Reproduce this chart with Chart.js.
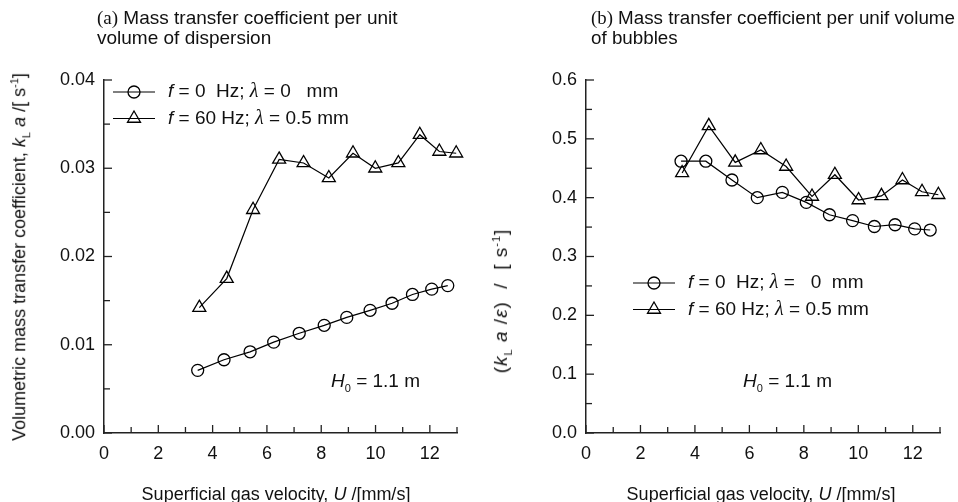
<!DOCTYPE html>
<html>
<head>
<meta charset="utf-8">
<script src="https://cdn.jsdelivr.net/npm/chart.js@4"></script>
<style>
  body { margin: 0; background: #fff; }
  #wrap { position: relative; width: 958px; height: 502px; font-family: "Liberation Sans", Arial, sans-serif; color: #111; }
  canvas { position: absolute; top: 0; }
  .title { position: absolute; top: 8px; font-size: 19px; line-height: 20px; white-space: nowrap; }
  .title .tag { font-family: "Liberation Serif", "Times New Roman", serif; }
  .xt, .yt, .note { position: absolute; font-size: 18px; white-space: pre; transform: translate(-50%, -50%); }
  .yt { transform: translate(-50%, -50%) rotate(-90deg); }
  .note { font-size: 19px; transform: translate(0, -50%); }
  sub, sup { font-size: 11px; }
</style>
</head>
<body>
<div id="wrap">
  <canvas id="chartA" width="479" height="502" style="left:0"></canvas>
  <canvas id="chartB" width="479" height="502" style="left:479px"></canvas>

  <div class="title" style="left:97px"><span class="tag">(a)</span> Mass transfer coefficient per unit<br>volume of dispersion</div>
  <div class="title" style="left:591px; font-size:18.8px"><span class="tag">(b)</span> Mass transfer coefficient per unif volume<br>of bubbles</div>

  <div class="xt" style="left:276px; top:494px">Superficial gas velocity, <i>U</i> /[mm/s]</div>
  <div class="xt" style="left:761px; top:494px">Superficial gas velocity, <i>U</i> /[mm/s]</div>

  <div class="yt" style="left:20px; top:257px">Volumetric mass transfer coefficient, <i>k</i><sub>L</sub> <i>a</i> /[ s<sup>-1</sup>]</div>
  <div class="yt" style="left:502px; top:301px; font-size:19px; letter-spacing:1px">(<i>k</i><sub>L</sub> <i>a</i> /<i>ε</i>)  /  [ s<sup>-1</sup>]</div>

  <div class="note" style="left:331px; top:382px"><i>H</i><sub>0</sub> = 1.1 m</div>
  <div class="note" style="left:743px; top:382px"><i>H</i><sub>0</sub> = 1.1 m</div>
</div>

<script>
// (a) kLa vs superficial gas velocity
const uCircleA = [3.45, 4.42, 5.38, 6.25, 7.19, 8.11, 8.94, 9.80, 10.61, 11.36, 12.07, 12.66];
const kCircleA = [0.0071, 0.0083, 0.0092, 0.0103, 0.0113, 0.0122, 0.0131, 0.0139, 0.0147, 0.0157, 0.0163, 0.0167];
const uTriA = [3.51, 4.52, 5.49, 6.45, 7.35, 8.28, 9.17, 9.99, 10.84, 11.63, 12.35, 12.97];
const kTriA = [0.0142, 0.0175, 0.0253, 0.0310, 0.0306, 0.0289, 0.0317, 0.0300, 0.0306, 0.0338, 0.0319, 0.0317];

// (b) kLa/eps vs superficial gas velocity
const uCircleB = [3.49, 4.40, 5.36, 6.29, 7.21, 8.09, 8.94, 9.79, 10.59, 11.35, 12.07, 12.64];
const kCircleB = [0.462, 0.462, 0.430, 0.400, 0.409, 0.392, 0.371, 0.361, 0.351, 0.354, 0.347, 0.345];
const uTriB = [3.53, 4.51, 5.48, 6.42, 7.35, 8.30, 9.14, 10.01, 10.85, 11.62, 12.34, 12.94];
const kTriB = [0.442, 0.522, 0.460, 0.481, 0.453, 0.402, 0.439, 0.396, 0.403, 0.430, 0.410, 0.405];

const xTickLabels = [0, 2, 4, 6, 8, 10, 12];
const yTickLabelsA = ['0.00', '0.01', '0.02', '0.03', '0.04'];
const yTickLabelsB = ['0.0', '0.1', '0.2', '0.3', '0.4', '0.5', '0.6'];

const SANS = '"Liberation Sans", Arial, sans-serif';
const SERIF = '"Liberation Serif", "Times New Roman", serif';

const pts = (xs, ys) => xs.map((x, i) => ({x, y: ys[i]}));

const circleStyle = {pointStyle: 'circle', pointRadius: 6, borderWidth: 1.2, pointBorderWidth: 1.3};
const triStyle = {pointStyle: 'triangle', pointRadius: 7.5, borderWidth: 1.2, pointBorderWidth: 1.3};

// ticks pointing into the plot, longer at labelled values
const inwardTicks = {
  id: 'inwardTicks',
  afterDraw(chart) {
    const {ctx, chartArea: a} = chart;
    const {x, y} = chart.scales;
    const line = (x1, y1, x2, y2) => { ctx.beginPath(); ctx.moveTo(x1, y1); ctx.lineTo(x2, y2); ctx.stroke(); };
    ctx.save();
    ctx.strokeStyle = '#222';
    ctx.lineWidth = 1.3;
    x.ticks.forEach(t => {
      const px = x.getPixelForValue(t.value);
      line(px, a.bottom, px, a.bottom - (t.label !== '' ? 8 : 6));
    });
    y.ticks.forEach(t => {
      const py = y.getPixelForValue(t.value);
      line(a.left, py, a.left + (t.label !== '' ? 8 : 6), py);
    });
    ctx.restore();
  }
};

// legend with mixed italic / serif text runs
const richLegend = {
  id: 'richLegend',
  afterDraw(chart, args, opts) {
    const ctx = chart.ctx;
    ctx.save();
    opts.rows.forEach((row, i) => {
      const ds = chart.data.datasets[i];
      const y = opts.y + i * opts.gap;
      ctx.strokeStyle = '#000';
      ctx.lineWidth = 1.2;
      ctx.beginPath(); ctx.moveTo(opts.x, y); ctx.lineTo(opts.x + 42, y); ctx.stroke();
      ctx.lineWidth = ds.pointBorderWidth;
      ctx.fillStyle = 'rgba(0,0,0,0)';
      Chart.helpers.drawPoint(ctx, {pointStyle: ds.pointStyle, radius: ds.pointRadius, borderWidth: ds.pointBorderWidth, rotation: 0}, opts.x + 21, y);
      let tx = opts.x + 55;
      ctx.fillStyle = '#111';
      ctx.textBaseline = 'middle';
      row.forEach(([text, font]) => {
        ctx.font = font;
        ctx.fillText(text, tx, y);
        tx += ctx.measureText(text).width;
      });
    });
    ctx.restore();
  }
};

function legendRows(lam1) {
  const it = 'italic 19px ' + SANS, rg = '19px ' + SANS, lam = 'italic 20px ' + SERIF;
  return [
    [['f', it], [' = 0  Hz; ', rg], ['λ', lam], [lam1, rg]],
    [['f', it], [' = 60 Hz; ', rg], ['λ', lam], [' = 0.5 mm', rg]]
  ];
}

function makeChart(id, data1, data2, yMax, yStep, yLabels, areaLeft, padRight, legendPos, lam1) {
  const majorEvery = Math.round((yMax / (yLabels.length - 1)) / yStep);
  return new Chart(document.getElementById(id), {
    type: 'line',
    data: {
      datasets: [
        Object.assign({data: data1, borderColor: '#000', pointBorderColor: '#000', pointBackgroundColor: 'rgba(0,0,0,0)', fill: false, clip: false}, circleStyle),
        Object.assign({data: data2, borderColor: '#000', pointBorderColor: '#000', pointBackgroundColor: 'rgba(0,0,0,0)', fill: false, clip: false}, triStyle)
      ]
    },
    options: {
      responsive: false,
      animation: false,
      layout: {padding: {left: 0, right: padRight, top: 80, bottom: 0}},
      plugins: {
        legend: {display: false},
        tooltip: {enabled: false},
        richLegend: Object.assign({rows: legendRows(lam1), gap: 26.5}, legendPos)
      },
      scales: {
        x: {
          type: 'linear', min: 0, max: 13,
          grid: {display: false},
          border: {display: true, color: '#222', width: 1.5},
          ticks: {
            stepSize: 1, padding: 2, color: '#111', font: {family: SANS, size: 18},
            callback: v => xTickLabels.includes(v) ? String(v) : ''
          },
          afterFit: s => { s.height = 502 - 433; }
        },
        y: {
          type: 'linear', min: 0, max: yMax,
          grid: {display: false},
          border: {display: true, color: '#222', width: 1.5},
          ticks: {
            stepSize: yStep, padding: 1, color: '#111', font: {family: SANS, size: 18},
            callback: (v, i) => i % majorEvery === 0 ? yLabels[i / majorEvery] : ''
          },
          afterFit: s => { s.width = areaLeft; }
        }
      }
    },
    plugins: [inwardTicks, richLegend]
  });
}

makeChart('chartA', pts(uCircleA, kCircleA), pts(uTriA, kTriA), 0.04, 0.005, yTickLabelsA, 104, 22, {x: 113, y: 92}, ' = 0   mm');
makeChart('chartB', pts(uCircleB, kCircleB), pts(uTriB, kTriB), 0.6, 0.05, yTickLabelsB, 107, 18, {x: 154, y: 283}, ' =   0  mm');
</script>
</body>
</html>
